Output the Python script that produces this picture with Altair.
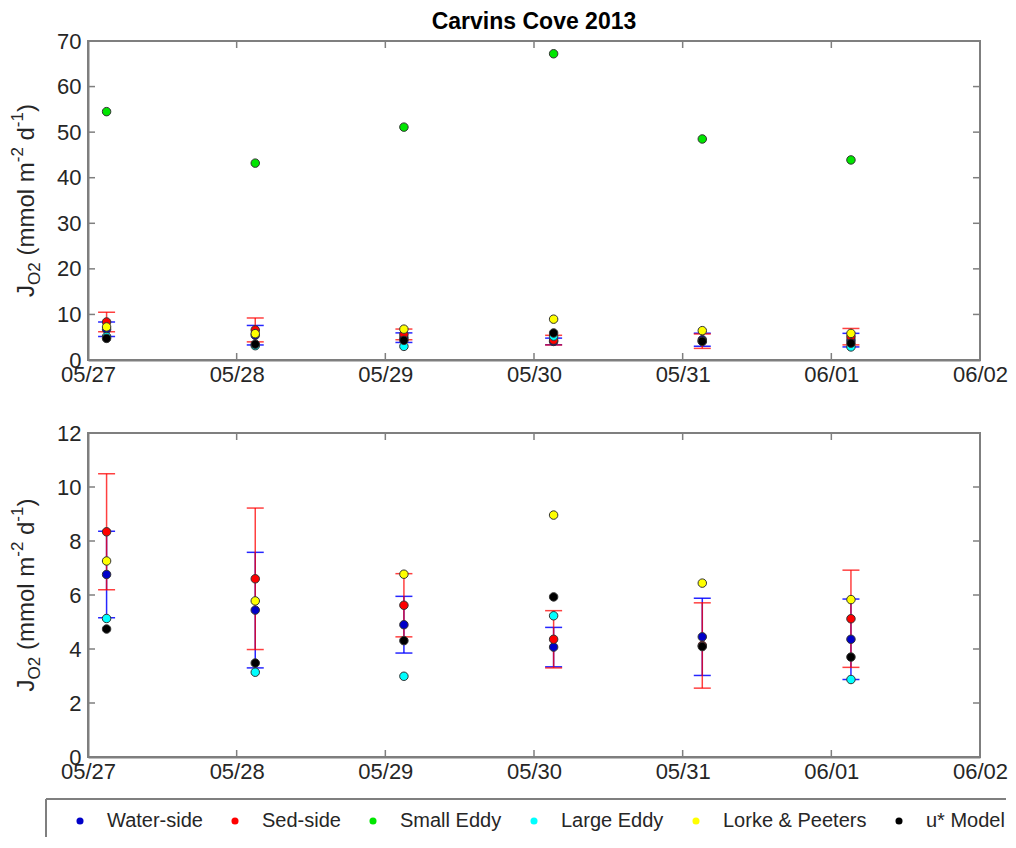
import altair as alt
import pandas as pd

# ---------------- data ----------------
dates = ["2013-05-27T03:00:00", "2013-05-28T03:00:00", "2013-05-29T03:00:00",
         "2013-05-30T03:10:00", "2013-05-31T03:10:00", "2013-06-01T03:10:00"]
water_mean = [6.76, 5.44, 4.90, 4.07, 4.45, 4.36]
water_err = [1.60, 2.14, 1.05, 0.73, 1.43, 1.49]
sed_mean = [8.34, 6.60, 5.62, 4.36, 4.13, 5.12]
sed_err = [2.15, 2.62, 1.17, 1.06, 1.58, 1.80]
small_eddy = [54.5, 43.2, 51.1, 67.2, 48.5, 43.9]
large_eddy = [5.13, 3.14, 2.99, 5.23, None, 2.87]
lorke = [7.26, 5.78, 6.77, 8.96, 6.44, 5.83]
ustar = [4.74, 3.48, 4.31, 5.93, 4.09, 3.70]

series_names = ["Water-side", "Sed-side", "Small Eddy", "Large Eddy", "Lorke & Peeters", "u* Model"]
series_colors = ["#0000c8", "#ff0000", "#00e600", "#00ffff", "#ffff00", "#000000"]

x_tick_dates = ["2013-05-27T00:00:00", "2013-05-28T00:00:00", "2013-05-29T00:00:00",
                "2013-05-30T00:00:00", "2013-05-31T00:00:00", "2013-06-01T00:00:00",
                "2013-06-02T00:00:00"]
top_y_ticks = [0, 10, 20, 30, 40, 50, 60, 70]
bot_y_ticks = [0, 2, 4, 6, 8, 10, 12]

# ---------------- tables ----------------
rows = []
for name, vals in zip(series_names, [water_mean, sed_mean, small_eddy, large_eddy, lorke, ustar]):
    for d, v in zip(dates, vals):
        if v is not None:
            rows.append({"date": d, "series": name, "value": v})
pts = pd.DataFrame(rows)

err_rows = []
for name, m, e in [("Water-side", water_mean, water_err), ("Sed-side", sed_mean, sed_err)]:
    for d, mm, ee in zip(dates, m, e):
        err_rows.append({"date": d, "series": name, "lo": mm - ee, "hi": mm + ee})
errs = pd.DataFrame(err_rows)

xt = pd.DataFrame({"t": x_tick_dates})

FONT = "Liberation Sans"
AX = "#7f7f7f"
TXT = "#262626"
W = 892
H1 = 319
H2 = 324
GAP = 35


def dt(s):
    d, t = s.split("T")
    y, mo, da = d.split("-")
    return alt.DateTime(year=int(y), month=int(mo), date=int(da))


xscale = alt.Scale(domain=[dt(x_tick_dates[0]), dt(x_tick_dates[-1])])
xaxis = alt.Axis(values=[dt(s) for s in x_tick_dates], format="%m/%d", ticks=False,
                 labelPadding=4, grid=False, domainColor=AX, domainWidth=2,
                 labelFont=FONT, labelFontSize=22, labelColor=TXT, labelFlush=False)

# Arial-metric widths (em) of the y-title pieces, used to chain them
EM = {"J": 0.5, "O": 0.778, "2": 0.556, " ": 0.278, "(": 0.333, "m": 0.833, "o": 0.556,
      "l": 0.222, "-": 0.333, "1": 0.556, "d": 0.556, ")": 0.333}


def twidth(s, fs):
    return sum(EM[ch] for ch in s) * fs


def panel(H, ymax, yticks, include_small, with_box):
    yscale = alt.Scale(domain=[0, ymax], nice=False)
    yaxis = alt.Axis(values=yticks, ticks=False, labelPadding=7, grid=False,
                     domainColor=AX, domainWidth=2, labelFont=FONT, labelFontSize=22,
                     labelColor=TXT, labelFlush=False)

    def X(f):
        return alt.X(f, type="temporal", scale=xscale, axis=xaxis, title=None)

    def Y(f):
        return alt.Y(f, type="quantitative", scale=yscale, axis=yaxis, title=None)

    layers = []
    for name, col, op in [("Water-side", "#0000ff", 0.85), ("Sed-side", "#ff0000", 0.75)]:
        base = alt.Chart(errs).transform_filter(alt.datum.series == name)
        layers.append(base.mark_rule(color=col, strokeWidth=1.5, opacity=op)
                      .encode(x=X("date"), y=Y("lo"), y2="hi"))
        layers.append(base.mark_tick(color=col, orient="horizontal", size=17, thickness=1.5, opacity=op)
                      .encode(x=X("date"), y=Y("lo")))
        layers.append(base.mark_tick(color=col, orient="horizontal", size=17, thickness=1.5, opacity=op)
                      .encode(x=X("date"), y=Y("hi")))

    pdata = pts if include_small else pts[pts.series != "Small Eddy"]
    layers.append(
        alt.Chart(pdata).mark_circle(size=72, opacity=1, stroke="#333333", strokeWidth=1)
        .encode(
            x=X("date"), y=Y("value"),
            color=alt.Color("series:N",
                            scale=alt.Scale(domain=series_names, range=series_colors),
                            sort=series_names,
                            legend=alt.Legend(title=None, orient="none", direction="horizontal",
                                              legendX=-18, legendY=H1 + H2 + 127,
                                              symbolType="circle", symbolSize=50,
                                              symbolStrokeWidth=0, labelFont=FONT,
                                              labelFontSize=20, labelColor=TXT,
                                              labelOffset=17, columnPadding=22,
                                              padding=0)),
        )
    )

    # inward ticks on all four sides
    layers.append(alt.Chart(xt).mark_rule(color=AX, strokeWidth=1.5)
                  .encode(x=X("t"), y=alt.value(H), y2=alt.value(H - 7)))
    layers.append(alt.Chart(xt).mark_rule(color=AX, strokeWidth=1.5)
                  .encode(x=X("t"), y=alt.value(0), y2=alt.value(7)))
    yt = pd.DataFrame({"v": yticks})
    layers.append(alt.Chart(yt).mark_rule(color=AX, strokeWidth=1.5)
                  .encode(y=Y("v"), x=alt.value(0), x2=alt.value(7)))
    layers.append(alt.Chart(yt).mark_rule(color=AX, strokeWidth=1.5)
                  .encode(y=Y("v"), x=alt.value(W), x2=alt.value(W - 7)))

    # y-axis title: J_O2 (mmol m^-2 d^-1), pieces chained bottom-to-top
    one = pd.DataFrame({"a": [0]})
    MAIN, SMALL = 24, 17
    # (text, font size, baseline x offset, space advanced before the piece)
    pieces = [("J", MAIN, -54, 0), ("O2", SMALL, -48, 0), ("(mmol m", MAIN, -54, 1),
              ("-2", SMALL, -65, 0), ("d", MAIN, -54, 1), ("-1", SMALL, -65, 0),
              (")", MAIN, -54, 0)]
    total = sum(twidth(t, fs) + sp * twidth(" ", MAIN) for t, fs, _, sp in pieces)
    pos = H / 2.0 + total / 2.0
    for txt, fs, xo, sp in pieces:
        pos -= sp * twidth(" ", MAIN)
        layers.append(alt.Chart(one).mark_text(text=txt, angle=270, align="left",
                                               baseline="alphabetic", font=FONT,
                                               fontSize=fs, color=TXT)
                      .encode(x=alt.value(xo), y=alt.value(pos)))
        pos -= twidth(txt, fs)

    if with_box:
        # legend frame: left and top edges (the rest runs off the figure)
        layers.append(alt.Chart(one).mark_rule(color=AX, strokeWidth=2)
                      .encode(x=alt.value(-42), x2=alt.value(W + 26),
                              y=alt.value(H + 42), y2=alt.value(H + 42)))
        layers.append(alt.Chart(one).mark_rule(color=AX, strokeWidth=2)
                      .encode(x=alt.value(-42), x2=alt.value(-42),
                              y=alt.value(H + 42), y2=alt.value(H + 80)))

    return alt.layer(*layers).properties(width=W, height=H)


top = panel(H1, 70, top_y_ticks, True, False).properties(
    title=alt.TitleParams("Carvins Cove 2013", font=FONT, fontSize=23, fontWeight="bold",
                          color="black", anchor="middle", frame="group", offset=6, dy=10)
)
bottom = panel(H2, 12, bot_y_ticks, False, True)

chart = alt.vconcat(top, bottom, spacing=GAP).properties(
    padding={"left": 0, "top": 2, "right": -1, "bottom": 0}
).configure_view(stroke=AX, strokeWidth=2)

chart.save("out.html", embed_options={"renderer": "svg", "actions": False})
